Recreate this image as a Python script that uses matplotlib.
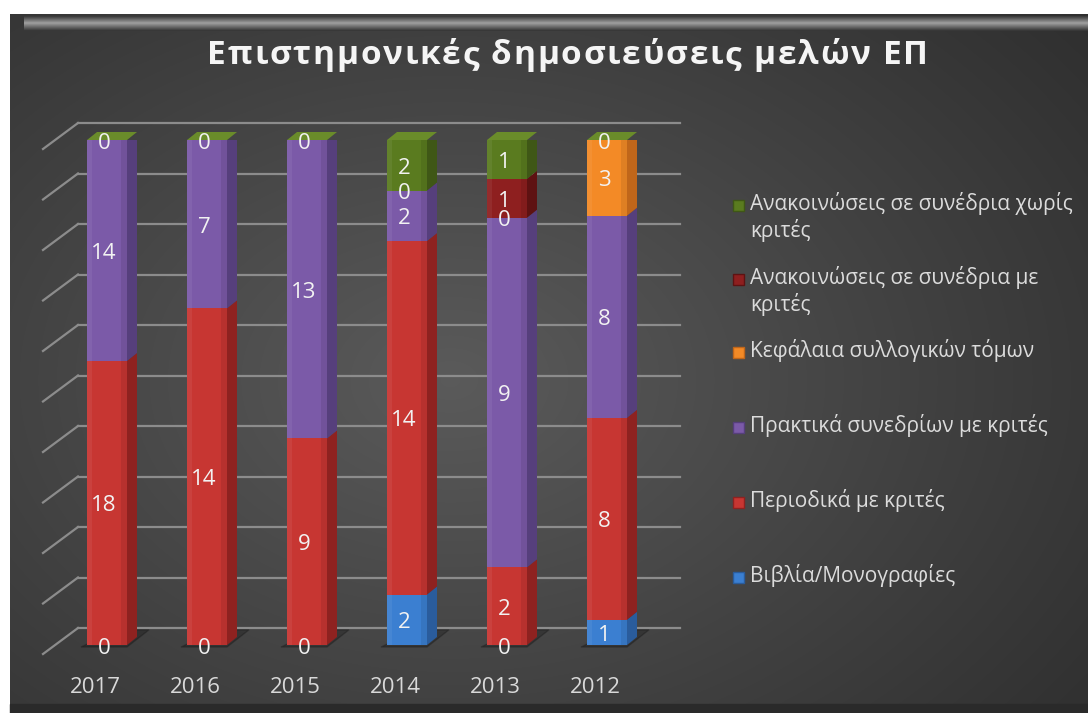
import numpy as np
import matplotlib
matplotlib.use('Agg')
import matplotlib.pyplot as plt
from matplotlib.patches import Polygon, Rectangle

# data (values per year, stacked as 100%)
years = ['2017', '2016', '2015', '2014', '2013', '2012']
books = [0, 0, 0, 2, 0, 1]
journals = [18, 14, 9, 14, 2, 8]
proceedings = [14, 7, 13, 2, 9, 8]
chapters = [np.nan, np.nan, np.nan, 0, 0, 3]
conf_ref = [np.nan, np.nan, np.nan, np.nan, 1, np.nan]
conf_noref = [0, 0, 0, 2, 1, 0]

series = [books, journals, proceedings, chapters, conf_ref, conf_noref]
names = ['Βιβλία/Μονογραφίες',
         'Περιοδικά με κριτές',
         'Πρακτικά συνεδρίων με κριτές',
         'Κεφάλαια συλλογικών τόμων',
         'Ανακοινώσεις σε συνέδρια με\nκριτές',
         'Ανακοινώσεις σε συνέδρια χωρίς\nκριτές']
title = 'Επιστημονικές δημοσιεύσεις μελών ΕΠ'

front = ['#3b7fd1', '#c73632', '#7b5aa8', '#f38a26', '#8e1f1f', '#5a7b1f']
side = ['#2a5c9c', '#8e2220', '#563f7c', '#c0661a', '#5e1212', '#3f5716']
top_col = '#6a8c2a'

W, H = 1088, 713
fnt = ['Open Sans', 'DejaVu Sans']

fig = plt.figure(figsize=(W / 100, H / 100), dpi=100, facecolor='white')

# background panel
bg = fig.add_axes([0, 0, 1, 1])
bg.set_xlim(0, W)
bg.set_ylim(H, 0)
bg.axis('off')
yy, xx = np.mgrid[14:H, 10:W].astype(float)
r = np.sqrt(((xx - 450) / 820.0) ** 2 + ((yy - 380) / 580.0) ** 2)
g = 0.185 + 0.17 * np.clip(1 - r, 0, 1) ** 1.05
bg.imshow(np.dstack([g, g, g]), extent=(10, W, H, 14), aspect='auto', zorder=0,
          interpolation='bilinear')
strip = np.concatenate([np.linspace(0.24, 0.6, 7), np.linspace(0.6, 0.22, 8)])
bg.imshow(np.dstack([strip[:, None]] * 3) * np.ones((1, 10, 3)), extent=(24, W, 31, 16),
          aspect='auto', zorder=1)
bg.add_patch(Rectangle((10, 704), W - 10, 9, color='#2a2a2a', zorder=2))

# plot area: x in category units, y as share of total
ax = fig.add_axes([57 / W, 68 / H, 600 / W, 505 / H])
ax.set_xlim(-0.5, 5.5)
ax.set_ylim(0, 1)
ax.axis('off')
ax.patch.set_alpha(0)

dx = 0.10          # depth to the right
dy = 8 / 505.0     # depth upwards
wall = 17 / 505.0  # back wall offset

for k in range(11):
    yv = k / 10
    ax.plot([-0.29, 5.73], [yv + wall, yv + wall], color='#8c8c8c', lw=1.6, zorder=1, clip_on=False)
    ax.plot([-0.64, -0.29], [yv - 9 / 505, yv + wall], color='#8c8c8c', lw=1.6, zorder=1, clip_on=False)

x = np.arange(len(years))
data = np.array(series, dtype=float)
totals = np.nansum(data, axis=0)
bw = 0.4

# floor shadows
for i in x:
    ax.add_patch(Polygon([(i - 0.26, -0.004), (i + 0.2, -0.004), (i + 0.42, 0.03), (i + 0.1, 0.03)],
                         closed=True, color='black', alpha=0.22, zorder=1.5, clip_on=False))

bottom = np.zeros(len(years))
for s in range(len(series)):
    vals = np.nan_to_num(data[s]) / totals
    ax.bar(x, vals, bottom=bottom, width=bw, color=front[s], zorder=3, linewidth=0)
    for i in x:
        b, h = bottom[i], vals[i]
        if h > 0:
            ax.add_patch(Polygon([(i + bw / 2, b), (i + bw / 2 + dx, b + dy),
                                  (i + bw / 2 + dx, b + h + dy), (i + bw / 2, b + h)],
                                 closed=True, color=side[s], zorder=3, linewidth=0))
            ax.add_patch(Rectangle((i - bw / 2, b), 0.05, h, color='white', alpha=0.06, zorder=3.2,
                                   linewidth=0))
            ax.add_patch(Rectangle((i + bw / 2 - 0.06, b), 0.06, h, color='black', alpha=0.08,
                                   zorder=3.2, linewidth=0))
        if not np.isnan(data[s][i]):
            ax.text(i - 0.03, b + h / 2 - 0.006, f'{int(data[s][i])}', ha='center', va='center',
                    color='#f2f2f2', fontsize=16, family=fnt, zorder=5)
    bottom = bottom + vals

# top faces
for i in x:
    t = bottom[i]
    ax.add_patch(Polygon([(i - bw / 2, t), (i + bw / 2, t), (i + bw / 2 + dx, t + dy),
                          (i - bw / 2 + dx, t + dy)], closed=True, color=top_col, zorder=3,
                         linewidth=0, clip_on=False))

# category labels
for i, yr in zip(x, years):
    ax.text(i - 0.12, -0.085, yr, ha='center', va='center', color='#d9d9d9', fontsize=16,
            family=fnt, clip_on=False)

# legend (drawn by hand, top entry = last series)
leg_y = [577, 502, 427, 352, 279, 205]
for s in range(len(series)):
    yc = leg_y[s]
    bg.add_patch(Rectangle((733, yc - 5), 11, 11, facecolor=front[s], edgecolor=side[s], lw=1, zorder=5))
    bg.text(750, yc - 13, names[s], ha='left', va='top', color='#dcdcdc', fontsize=15,
            family=fnt, linespacing=1.22, zorder=5)

# title with letter spacing, stretched to the reference width
renderer = fig.canvas.get_renderer()
tsize = 24
widths = []
for ch in title:
    if ch == ' ':
        t = bg.text(0, 0, 'a a', fontsize=tsize, fontweight='bold', family=fnt)
        w = t.get_window_extent(renderer).width
        t.remove()
        t = bg.text(0, 0, 'aa', fontsize=tsize, fontweight='bold', family=fnt)
        w -= t.get_window_extent(renderer).width
        t.remove()
    else:
        t = bg.text(0, 0, ch, fontsize=tsize, fontweight='bold', family=fnt)
        w = t.get_window_extent(renderer).width
        t.remove()
    widths.append(w)
spacing = max((721 - sum(widths)) / (len(title) - 1), 0)
xpos = 207
for ch, w in zip(title, widths):
    if ch != ' ':
        bg.text(xpos, 56, ch, ha='left', va='center', fontsize=tsize, fontweight='bold',
                family=fnt, color='#f5f5f5', zorder=5)
    xpos += w + spacing

fig.savefig('out.png', dpi=100, facecolor=fig.get_facecolor())
